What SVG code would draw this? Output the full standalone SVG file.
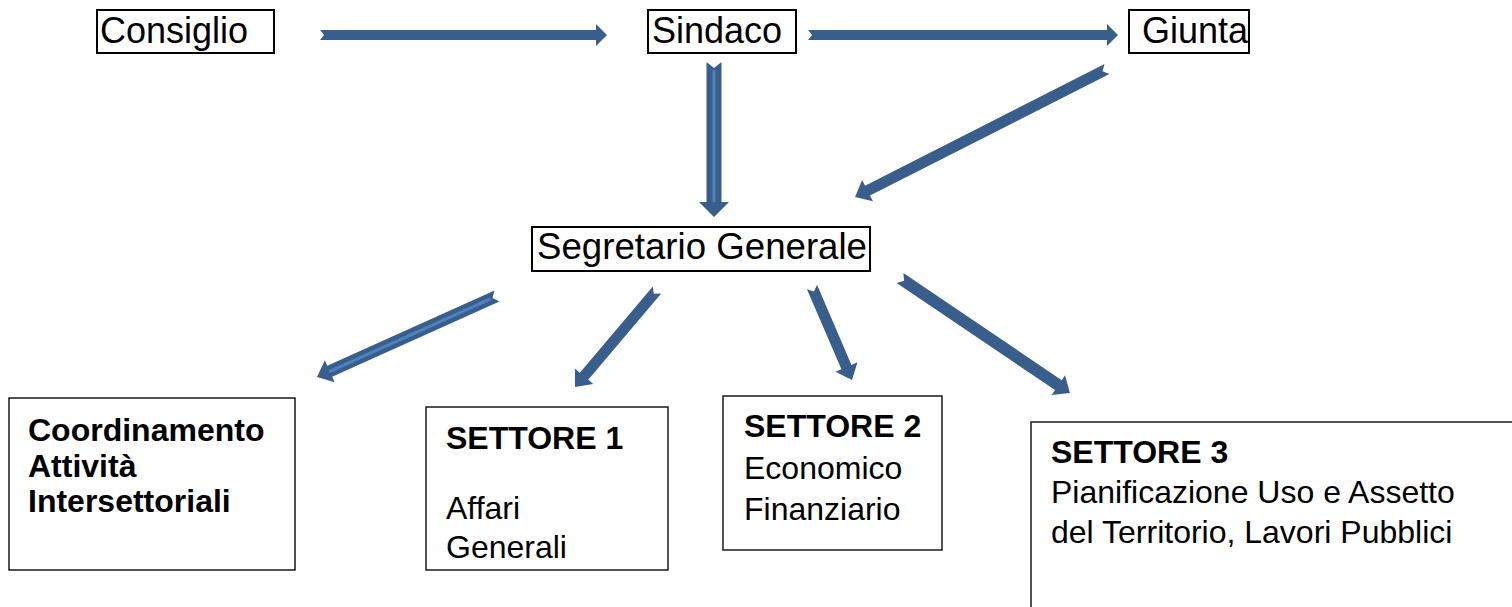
<svg xmlns="http://www.w3.org/2000/svg" width="1512" height="607" viewBox="0 0 1512 607">
<style>
.top{fill:#fff;stroke:#000;stroke-width:2}
.bot{fill:#fff;stroke:#1a1a1a;stroke-width:1.5}
.t1{font-family:"Liberation Sans",Arial,sans-serif;font-size:36px;fill:#000}
.b{font-family:"Liberation Sans",Arial,sans-serif;font-size:32px;font-weight:bold;fill:#000}
.r{font-family:"Liberation Sans",Arial,sans-serif;font-size:32px;fill:#000}
.arr{fill:#3a5e8c}
.hl{stroke:#4f81bd;stroke-width:3;fill:none}
</style>
<rect width="1512" height="607" fill="#fff"/>
<g id="connectors">
  <path class="arr" transform="translate(320,35)" d="M0,-5 L276,-5 L276,-11 L287,0 L276,11 L276,5 L0,5 L4,0 Z"/>
  <path class="arr" transform="translate(808,35)" d="M0,-5 L299,-5 L299,-11 L310,0 L299,11 L299,5 L0,5 L4,0 Z"/>
  <g transform="translate(714,62) rotate(90)">
    <path class="arr" d="M0,-7.5 L140,-7.5 L140,-15 L155,0 L140,15 L140,7.5 L0,7.5 L6,0 Z"/>
    <line class="hl" x1="8" y1="0" x2="140" y2="0"/>
  </g>
  <path class="arr" transform="translate(1107,69) rotate(153.07)" d="M0,-5.5 L268.6,-5.5 L268.6,-12 L282.6,0 L268.6,12 L268.6,5.5 L0,5.5 L5,0 Z"/>
  <g transform="translate(497,296) rotate(155.77)">
    <path class="arr" d="M0,-6 L183.4,-6 L183.4,-12 L197.4,0 L183.4,12 L183.4,6 L0,6 L5,0 Z"/>
    <line class="hl" x1="7" y1="0" x2="184" y2="0"/>
  </g>
  <path class="arr" transform="translate(657,290) rotate(130.2)" d="M0,-5.5 L113,-5.5 L113,-12 L127,0 L113,12 L113,5.5 L0,5.5 L5,0 Z"/>
  <path class="arr" transform="translate(812,287) rotate(66.73)" d="M0,-5.5 L87.2,-5.5 L87.2,-12 L101.2,0 L87.2,12 L87.2,5.5 L0,5.5 L5,0 Z"/>
  <path class="arr" transform="translate(900,278) rotate(34.08)" d="M0,-6 L191.2,-6 L191.2,-12 L205.2,0 L191.2,12 L191.2,6 L0,6 L5,0 Z"/>
</g>
<g id="consiglio">
  <rect class="top" x="97" y="10" width="177" height="43"/>
  <text class="t1" x="100" y="43">Consiglio</text>
</g>
<g id="sindaco">
  <rect class="top" x="648" y="10" width="148" height="43"/>
  <text class="t1" x="652" y="43">Sindaco</text>
</g>
<g id="giunta">
  <rect class="top" x="1129" y="10" width="120" height="43"/>
  <text class="t1" x="1142" y="43">Giunta</text>
</g>
<g id="segretario">
  <rect class="top" x="532" y="227" width="338" height="44"/>
  <text class="t1" x="537" y="259" textLength="330" lengthAdjust="spacingAndGlyphs">Segretario Generale</text>
</g>
<g id="coordinamento">
  <rect class="bot" x="9" y="398" width="286" height="172"/>
  <text class="b" x="28" y="441">Coordinamento</text>
  <text class="b" x="28" y="477">Attività</text>
  <text class="b" x="28" y="512">Intersettoriali</text>
</g>
<g id="settore1">
  <rect class="bot" x="426" y="407" width="242" height="163"/>
  <text class="b" x="446" y="449">SETTORE 1</text>
  <text class="r" x="446" y="519">Affari</text>
  <text class="r" x="446" y="558">Generali</text>
</g>
<g id="settore2">
  <rect class="bot" x="723" y="396" width="219" height="154"/>
  <text class="b" x="744" y="437">SETTORE 2</text>
  <text class="r" x="744" y="479">Economico</text>
  <text class="r" x="744" y="520">Finanziario</text>
</g>
<g id="settore3">
  <rect class="bot" x="1031" y="422" width="500" height="200"/>
  <text class="b" x="1051" y="463">SETTORE 3</text>
  <text class="r" x="1051" y="503">Pianificazione Uso e Assetto</text>
  <text class="r" x="1051" y="543">del Territorio, Lavori Pubblici</text>
</g>
</svg>
